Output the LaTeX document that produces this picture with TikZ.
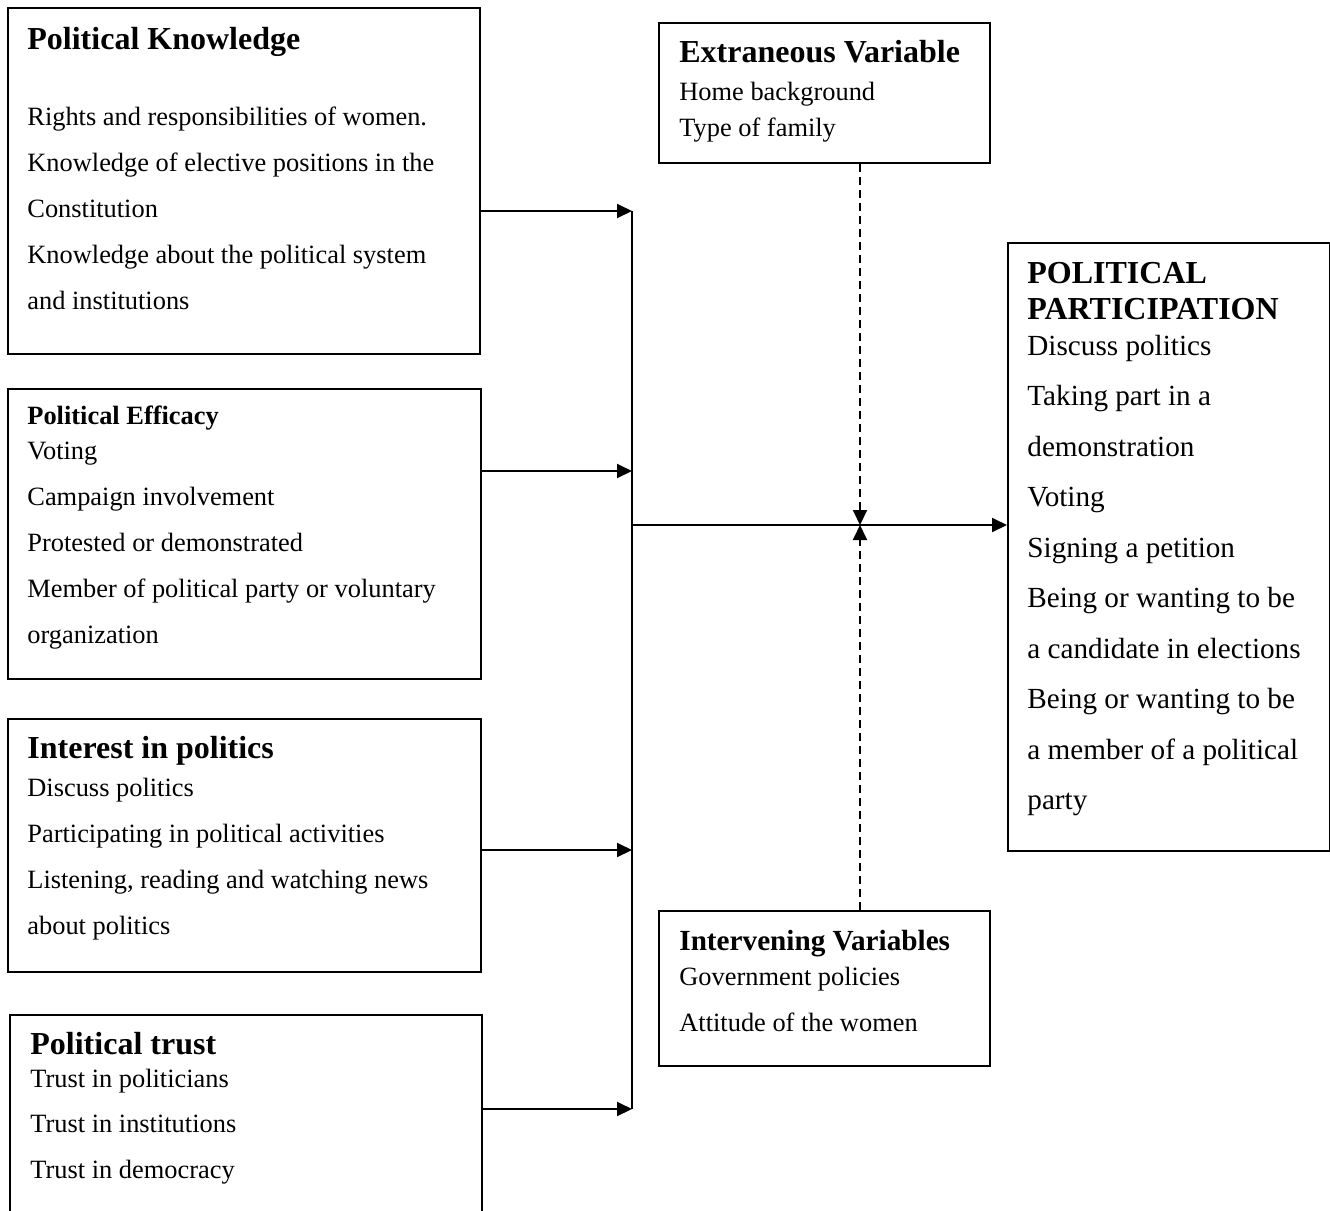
\documentclass[tikz,border=0pt]{standalone}
\usepackage{fontspec}
\setmainfont{Liberation Serif}
\usetikzlibrary{arrows.meta}

\tikzset{
  box/.style={draw, line width=1pt, inner sep=0pt, anchor=north west},
  head/.style={anchor=base west, inner sep=0pt, font=\bfseries\fontsize{16}{18}\selectfont},
  body/.style={anchor=base west, inner sep=0pt, align=left, font=\fontsize{13.2}{22.9}\selectfont},
  tip/.style={-{Triangle[length=7.5pt,width=7pt]}, line width=1pt},
  dasharrow/.style={tip, dash pattern=on 4pt off 2.5pt}
}

\begin{document}
\begin{tikzpicture}[x=0.5pt, y=-0.5pt]
  \useasboundingbox (0,0) rectangle (1330,1211);
  \clip (0,0) rectangle (1330,1211);

  % boxes
  \node[box, minimum width=236pt, minimum height=173pt] (pk) at (7,7) {};
  \node[box, minimum width=236.5pt, minimum height=145pt] (pe) at (7,388) {};
  \node[box, minimum width=236.5pt, minimum height=126.5pt] (ip) at (7,718) {};
  \node[box, minimum width=236pt, minimum height=103pt] (pt) at (9,1014) {};
  \node[box, minimum width=165.5pt, minimum height=70pt] (ev) at (658,22) {};
  \node[box, minimum width=165.5pt, minimum height=77.5pt] (iv) at (658,910) {};
  \node[box, minimum width=161pt, minimum height=304pt] (pp) at (1007,242) {};

  % texts (multi-line texts sit on the baseline of their last line)
  \node[head] (pkh) at (27,49) {Political Knowledge};
  \node[body] (pkb) at (27,309) {Rights and responsibilities of women.\\Knowledge of elective positions in the\\Constitution\\Knowledge about the political system\\and institutions};

  \node[head, font=\bfseries\fontsize{13.2}{15}\selectfont] (peh) at (27,424) {Political Efficacy};
  \node[body, font=\fontsize{13.2}{23}\selectfont] (peb) at (27,643) {Voting\\Campaign involvement\\Protested or demonstrated\\Member of political party or voluntary\\organization};

  \node[head] (iph) at (27,758.5) {Interest in politics};
  \node[body, font=\fontsize{13.2}{23}\selectfont] (ipb) at (27,934) {Discuss politics\\Participating in political activities\\Listening, reading and watching news\\about politics};

  \node[head] (pth) at (30,1054.5) {Political trust};
  \node[body, font=\fontsize{13.2}{22.75}\selectfont] (ptb) at (30,1178) {Trust in politicians\\Trust in institutions\\Trust in democracy};

  \node[head] (evh) at (679,62.5) {Extraneous Variable};
  \node[body, font=\fontsize{13.2}{18}\selectfont] (evb) at (679,136) {Home background\\Type of family};

  \node[head, font=\bfseries\fontsize{14.6}{17}\selectfont] (ivh) at (679,950) {Intervening Variables};
  \node[body, font=\fontsize{13.2}{23}\selectfont] (ivb) at (679,1031) {Government policies\\Attitude of the women};

  \node[head, align=left] (pph) at (1027,319.5) {POLITICAL\\PARTICIPATION};
  \node[body, font=\fontsize{14.6}{25.25}\selectfont] (ppb) at (1027,809.5) {Discuss politics\\Taking part in a\\demonstration\\Voting\\Signing a petition\\Being or wanting to be\\a candidate in elections\\Being or wanting to be\\a member of a political\\party};

  % connectors
  \coordinate (jk) at (632,211);
  \coordinate (je) at (632,471);
  \coordinate (ji) at (632,850);
  \coordinate (jt) at (632,1109);
  \coordinate (jm) at (632,525);
  \coordinate (cross) at (860,525);

  \draw[tip] (pk.east |- jk) -- (jk);
  \draw[tip] (pe.east |- je) -- (je);
  \draw[tip] (ip.east |- ji) -- (ji);
  \draw[tip] (pt.east |- jt) -- (jt);
  \draw[line width=1pt] (jk) -- (jt);
  \draw[tip] (jm) -- (pp.west |- jm);
  \draw[dasharrow] (ev.south -| cross) -- (cross);
  \draw[dasharrow] (iv.north -| cross) -- (cross);
\end{tikzpicture}
\end{document}
